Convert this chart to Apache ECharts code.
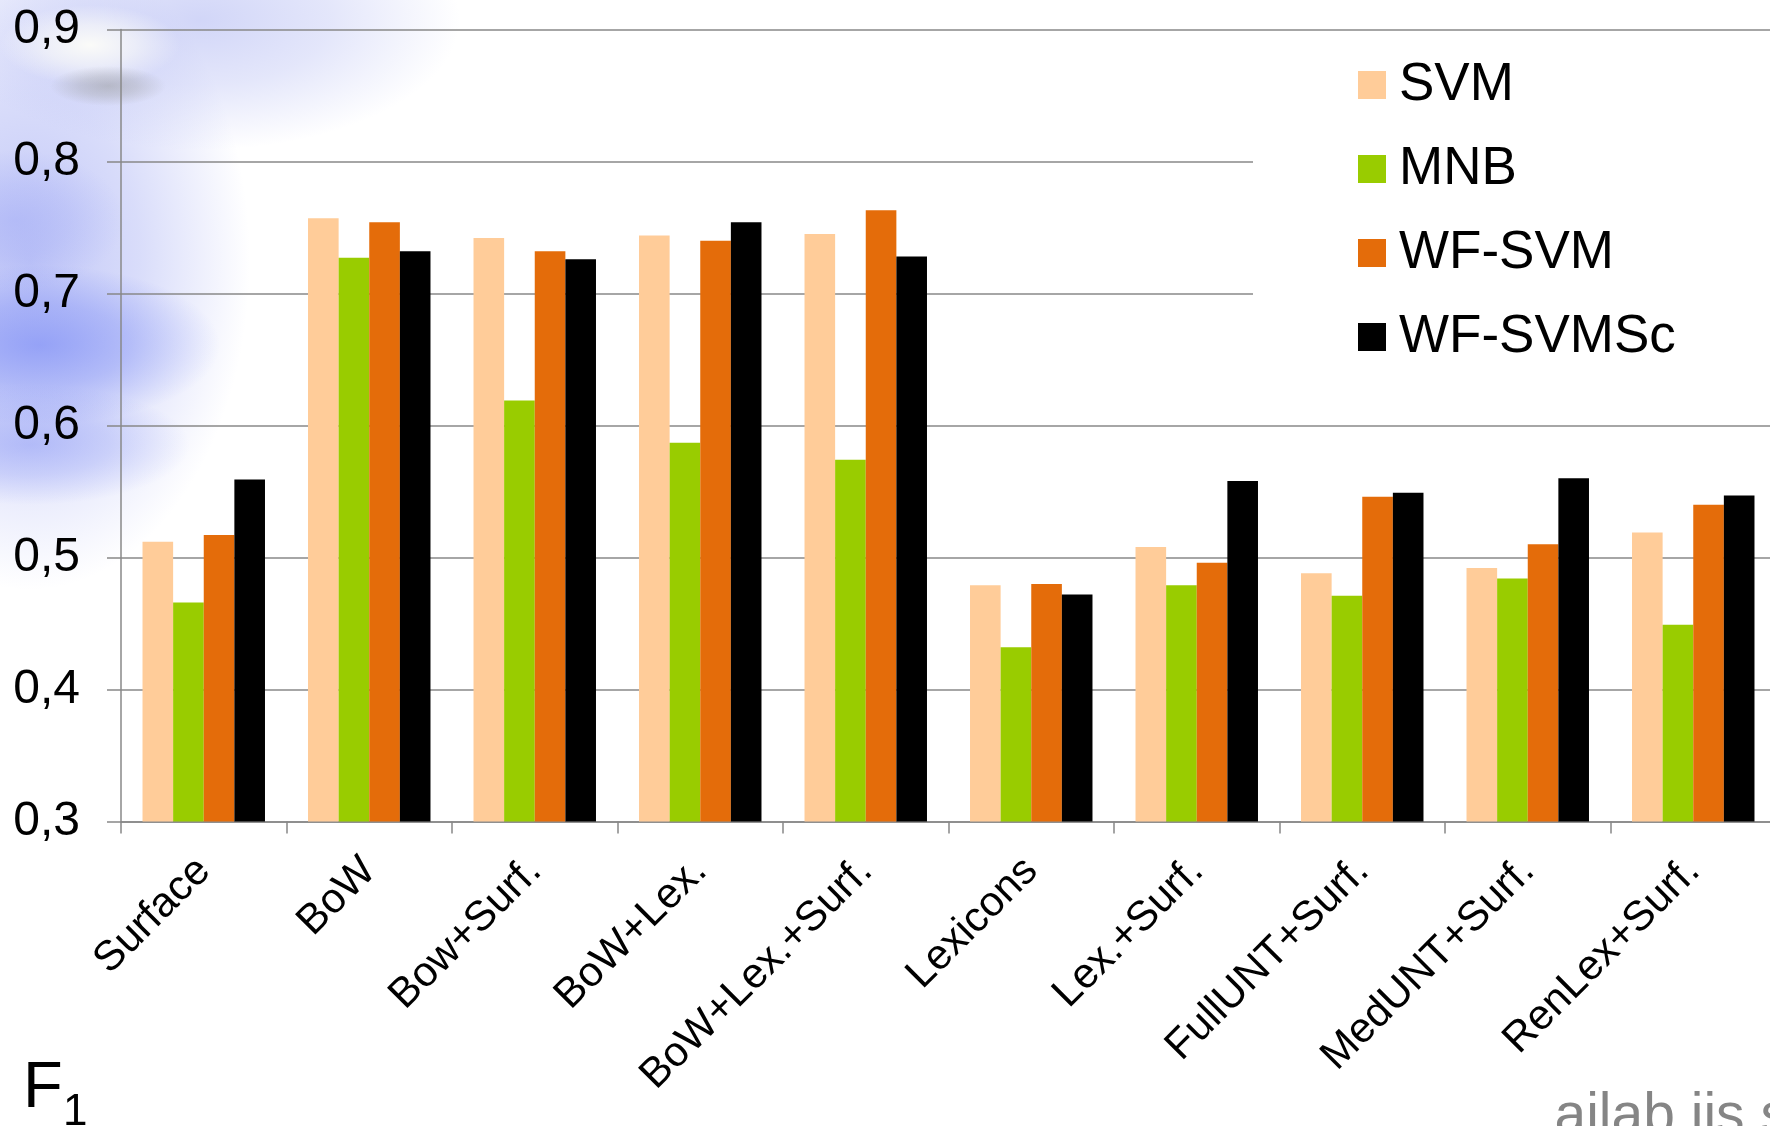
<!DOCTYPE html>
<html>
<head>
<meta charset="utf-8">
<title>F1 by feature set</title>
<script src="https://cdn.jsdelivr.net/npm/echarts@6/dist/echarts.min.js"></script>
<style>
  html, body { margin: 0; padding: 0; background: #ffffff; }
  #chart { width: 1770px; height: 1126px; }
</style>
</head>
<body>
<div id="chart"></div>
<script>
// Feature sets on the x axis
const categories = ['Surface', 'BoW', 'Bow+Surf.', 'BoW+Lex.', 'BoW+Lex.+Surf.',
  'Lexicons', 'Lex.+Surf.', 'FullUNT+Surf.', 'MedUNT+Surf.', 'RenLex+Surf.'];

// Classifiers
const seriesNames = ['SVM', 'MNB', 'WF-SVM', 'WF-SVMSc'];

// F1 scores per classifier, one value per feature set
const svm      = [0.512, 0.757, 0.742, 0.744, 0.745, 0.479, 0.508, 0.488, 0.492, 0.519];
const mnb      = [0.466, 0.727, 0.619, 0.587, 0.574, 0.432, 0.479, 0.471, 0.484, 0.449];
const wfSvm    = [0.517, 0.754, 0.732, 0.740, 0.763, 0.480, 0.496, 0.546, 0.510, 0.540];
const wfSvmSc  = [0.559, 0.732, 0.726, 0.754, 0.728, 0.472, 0.558, 0.549, 0.560, 0.547];

// Y axis tick labels (decimal comma)
const yTickLabels = ['0,3', '0,4', '0,5', '0,6', '0,7', '0,8', '0,9'];

const FONT = '"Liberation Sans", Arial, sans-serif';
const GRID_GRAY = '#888888';
const colors = ['#FFCC99', '#99CC00', '#E46C0A', '#000000'];

// Soft blue slide-background haze in the top-left corner
function haze(cx, cy, rx, ry, rgb, a) {
  return {
    type: 'circle',
    x: cx, y: cy,
    scaleX: rx / 100, scaleY: ry / 100,
    shape: { cx: 0, cy: 0, r: 100 },
    silent: true,
    z: -100,
    style: {
      fill: new echarts.graphic.RadialGradient(0.5, 0.5, 0.5, [
        { offset: 0, color: 'rgba(' + rgb + ',' + a + ')' },
        { offset: 0.5, color: 'rgba(' + rgb + ',' + (a * 0.6) + ')' },
        { offset: 1, color: 'rgba(' + rgb + ',0)' }
      ])
    }
  };
}

const chart = echarts.init(document.getElementById('chart'), null, { renderer: 'canvas' });

const seriesData = [svm, mnb, wfSvm, wfSvmSc];

const option = {
  animation: false,
  backgroundColor: '#ffffff',
  textStyle: { fontFamily: FONT },
  color: colors,
  grid: {
    left: 121, width: 1655, top: 29.5, bottom: 304.5,
    containLabel: false,
    outerBoundsMode: 'none'
  },
  legend: {
    orient: 'vertical',
    left: 1253,
    top: 43,
    backgroundColor: '#ffffff',
    padding: [12, 300, 30, 105],
    itemWidth: 28,
    itemHeight: 28,
    itemGap: 24,
    icon: 'rect',
    selectedMode: false,
    data: seriesNames,
    textStyle: { fontSize: 53, fontFamily: FONT, color: '#000000', lineHeight: 60, padding: [0, 0, 0, 8] }
  },
  xAxis: {
    type: 'category',
    data: categories,
    boundaryGap: true,
    axisLine: { show: true, lineStyle: { color: GRID_GRAY, width: 1.5 } },
    axisTick: { show: true, length: 12, lineStyle: { color: GRID_GRAY, width: 1.5 } },
    axisLabel: {
      interval: 0,
      rotate: 45,
      margin: 43,
      fontSize: 42,
      fontFamily: FONT,
      color: '#000000'
    },
    splitLine: { show: false }
  },
  yAxis: {
    type: 'value',
    min: 0.3,
    max: 0.9,
    interval: 0.1,
    axisLine: { show: true, lineStyle: { color: GRID_GRAY, width: 1.5 } },
    axisTick: { show: true, length: 14, lineStyle: { color: GRID_GRAY, width: 1.5 } },
    axisLabel: {
      margin: 41,
      fontSize: 48,
      fontFamily: FONT,
      color: '#000000',
      formatter: function (v) { return yTickLabels[Math.round((v - 0.3) / 0.1)]; }
    },
    splitLine: { show: true, lineStyle: { color: GRID_GRAY, width: 1.5 } }
  },
  series: seriesNames.map(function (name, i) {
    return {
      name: name,
      type: 'bar',
      data: seriesData[i],
      barGap: '0%',
      barCategoryGap: '26%',
      itemStyle: { color: colors[i] }
    };
  }),
  graphic: [
    haze(30, 260, 220, 330, '150,160,242', 0.6),
    haze(200, 20, 260, 130, '172,180,242', 0.55),
    haze(40, 345, 180, 80, '112,130,245', 0.6),
    haze(30, 445, 160, 60, '125,140,245', 0.45),
    haze(15, 220, 110, 70, '135,148,245', 0.3),
    haze(90, 45, 90, 40, '255,255,248', 0.9),
    haze(108, 86, 58, 20, '135,135,125', 0.4),
    {
      type: 'text', x: 23, y: 1088.8, silent: true,
      style: { text: 'F', fontSize: 65, fontFamily: FONT, fill: '#000000', align: 'left', verticalAlign: 'middle' }
    },
    {
      type: 'text', x: 63, y: 1113, silent: true,
      style: { text: '1', fontSize: 44, fontFamily: FONT, fill: '#000000', align: 'left', verticalAlign: 'middle' }
    },
    {
      type: 'text', x: 1554.5, y: 1116.8, silent: true,
      style: { text: 'ailab.ijs.si', fontSize: 57, fontFamily: FONT, fill: '#858585', align: 'left', verticalAlign: 'middle' }
    }
  ]
};

chart.setOption(option);
</script>
</body>
</html>
